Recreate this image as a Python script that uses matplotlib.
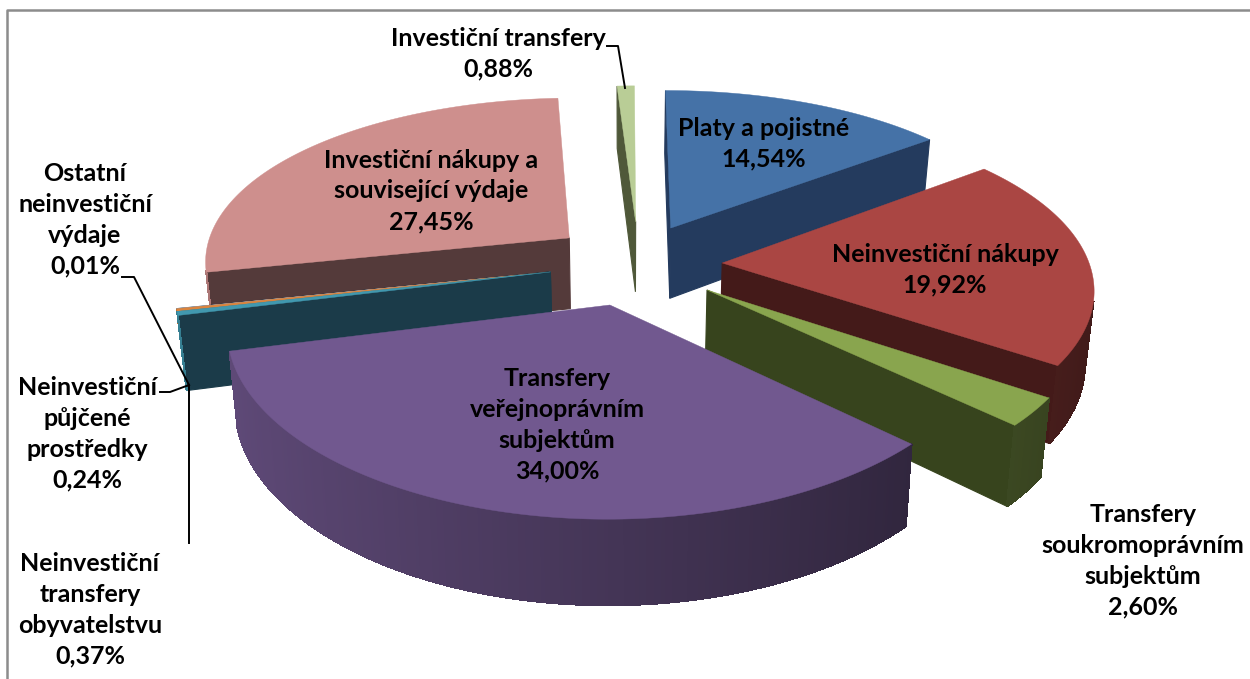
import numpy as np
import matplotlib
matplotlib.use('Agg')
import matplotlib.pyplot as plt

plt.rcParams['font.family'] = ['Lato', 'DejaVu Sans']

# hodnoty v procentech, poradi jako v grafu (po smeru hodin od 12)
names = ['Platy a pojistné', 'Neinvestiční nákupy', 'Transfery\nsoukromoprávním\nsubjektům',
         'Transfery\nveřejnoprávním\nsubjektům', 'Neinvestiční\ntransfery\nobyvatelstvu',
         'Neinvestiční\npůjčené\nprostředky', 'Ostatní\nneinvestiční\nvýdaje',
         'Investiční nákupy a\nsouvisející výdaje', 'Investiční transfery']
values = [14.54, 19.92, 2.60, 34.00, 0.37, 0.24, 0.01, 27.45, 0.88]

colors = ['#4572A7', '#AA4643', '#89A54E', '#71588F', '#4198AF', '#DB843D', '#93A9CF', '#CE8F8D', '#B9CD96']
cut_colors = ['#243B5E', '#441A19', '#37441D', '#3B2E4B', '#1B3B49', '#1B3B49', '#1B3B49', '#543A3A', '#4F5839']
offs_x = [0.128, 0.265, 0.219, -0.040, -0.202, -0.202, -0.202, -0.155, 0.030]
offs_y = [0.197, -0.018, -0.175, -0.259, -0.071, -0.071, -0.071, 0.135, 0.236]
label_x = [764, 945, 1143, 557, 90, 87, 85, 431, 498]
label_y = [144, 270, 561, 425, 610, 434, 220, 191, 54]
draw_order = [8, 0, 7, 6, 5, 4, 1, 2, 3]

cx, cy = 625, 260
rx, ry = 366, 167
persp_x = 0.13
persp_y = 0.15
depth = 72
bottom_shrink = 0.98
font_size = 18


def project(X, Y):
    return cx + rx * X / (1 + persp_x * Y), cy - ry * Y / (1 + persp_y * Y)


def lower(x, y, Y):
    return cx + (x - cx) * bottom_shrink, y + depth / (1 + persp_y * Y) ** 0.85


def rgb_scale(col, f):
    return tuple(c * f for c in matplotlib.colors.to_rgb(col))


def signed_area(px, py):
    return 0.5 * np.sum(px * np.roll(py, -1) - np.roll(px, -1) * py)


def quad(ax, X1, Y1, X2, Y2, col, aa=True):
    # ctyruhelnik stena, kresli se jen kdyz je videt
    x1, y1 = project(X1, Y1)
    x2, y2 = project(X2, Y2)
    bx1, by1 = lower(x1, y1, Y1)
    bx2, by2 = lower(x2, y2, Y2)
    px = np.array([x1, x2, bx2, bx1])
    py = np.array([y1, y2, by2, by1])
    if signed_area(px, py) < 0:
        ax.fill(px, py, color=col, lw=0.8, antialiased=aa)


fig = plt.figure(figsize=(12.5, 6.79), dpi=100)
ax = fig.add_axes([0, 0, 1, 1])
ax.set_xlim(0, 1250)
ax.set_ylim(679, 0)
ax.axis('off')

edges = np.radians(np.concatenate([[0], np.cumsum(values)]) * 3.6 / (sum(values) / 100))

for i in draw_order:
    a, b = edges[i], edges[i + 1]
    t = np.linspace(a, b, max(int(np.degrees(b - a)) * 2, 2) + 1)
    X = offs_x[i] + np.sin(t)
    Y = offs_y[i] + np.cos(t)
    # rezy
    quad(ax, offs_x[i], offs_y[i], X[0], Y[0], cut_colors[i])
    quad(ax, X[-1], Y[-1], offs_x[i], offs_y[i], cut_colors[i])
    # obvod
    for j in range(len(t) - 1):
        um = np.sin((t[j] + t[j + 1]) / 2)
        f = 0.84 - 0.47 * (um + 1) / 2
        quad(ax, X[j], Y[j], X[j + 1], Y[j + 1], rgb_scale(colors[i], f), aa=False)
    # horni plocha
    px, py = project(np.r_[offs_x[i], X], np.r_[offs_y[i], Y])
    ax.fill(px, py, color=colors[i], lw=0.3)

for name, v, lx, ly in zip(names, values, label_x, label_y):
    txt = name + '\n' + f'{v:.2f}'.replace('.', ',') + '%'
    ax.text(lx, ly, txt, ha='center', va='center', fontsize=font_size, fontweight='bold',
            color='black', linespacing=1.41)

# vodici cary
ax.plot([607, 618, 625], [46, 46, 88], color='black', lw=1.4)
ax.plot([122, 134, 189], [277, 277, 385], color='black', lw=1.4)
ax.plot([160, 170, 189], [392, 392, 385], color='black', lw=1.4)
ax.plot([189, 189], [385, 543], color='black', lw=1.4)

# ramecek, vpravo neni videt
ax.plot([7, 7, 1250], [679, 10, 10], color='#8c8c8c', lw=1.8)

fig.savefig('out.png', dpi=100)
